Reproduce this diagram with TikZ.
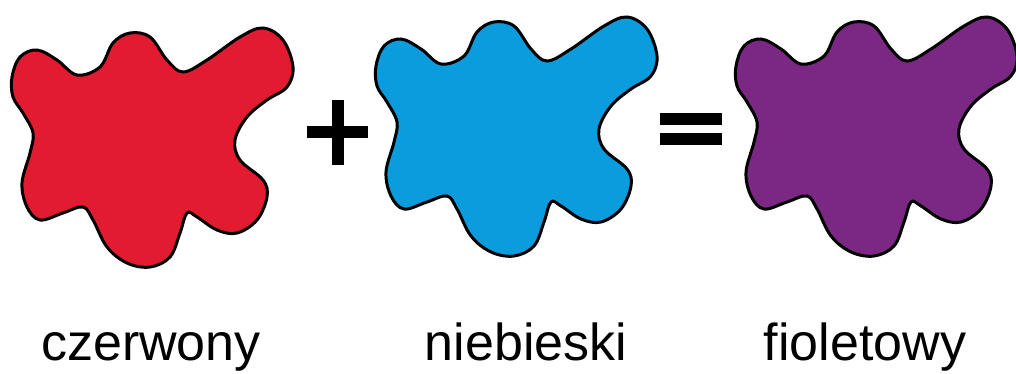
\documentclass[tikz,border=0pt]{standalone}
\usepackage{fontspec}
\setmainfont{Liberation Sans}
\usepackage{tikz}
\usetikzlibrary{positioning}
\definecolor{blobred}{HTML}{E21B30}
\definecolor{blobblue}{HTML}{0A9CDC}
\definecolor{blobpurple}{HTML}{7B2784}

\begin{document}
\begin{tikzpicture}[x=1pt,y=-1pt]
\newcommand{\blob}[3]{\draw[shift={(#1,#2)},line width=3pt,fill=#3] plot[smooth cycle,tension=0.6] coordinates {(12,77) (20,57) (37,50) (57,60) (77,75) (100,67) (113,43) (130,33) (150,37) (167,60) (183,72) (207,60) (240,37) (263,28) (283,40) (293,67) (287,87) (267,100) (247,117) (235,140) (240,160) (263,180) (267,197) (257,220) (237,233) (217,230) (197,217) (187,213) (180,233) (170,257) (150,267) (127,263) (107,247) (93,220) (83,207) (63,213) (40,220) (27,207) (22,183) (30,153) (33,133) (23,113) (13,97)};}
\useasboundingbox (0,0) rectangle (1016,374);
\foreach \x/\y/\c in {0/0/blobred,364/-11/blobblue,724/-11/blobpurple}{\blob{\x}{\y}{\c}}
% plus
\fill (307,126) rectangle (368,138);
\fill (332,100) rectangle (344,165);
% equals
\fill (660,113) rectangle (722,125);
\fill (660,133) rectangle (722,145);
\node[anchor=base,font=\fontsize{52}{60}\selectfont] (czerwony) at (151,360) {czerwony};
\node[anchor=base,font=\fontsize{52}{60}\selectfont] (niebieski) at (526,360) {niebieski};
\node[anchor=base,font=\fontsize{52}{60}\selectfont] (fioletowy) at (865,360) {fioletowy};
\end{tikzpicture}
\end{document}
